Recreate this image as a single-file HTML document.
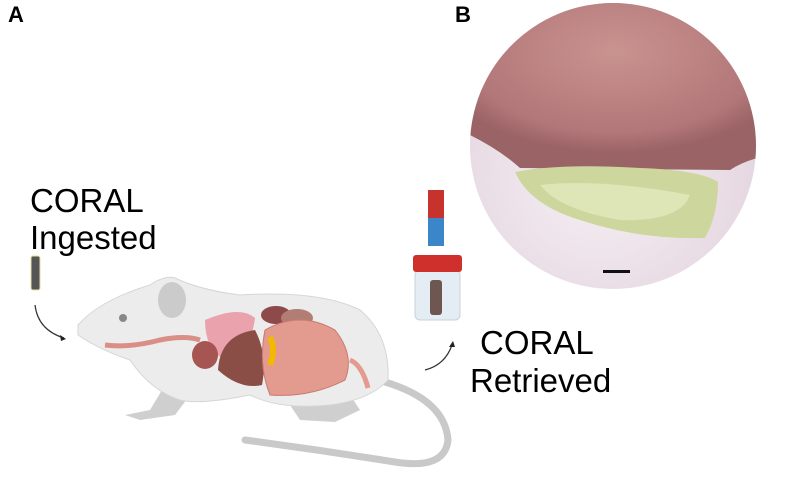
<!DOCTYPE html>
<html><head><style>
body{margin:0;background:#fff;}
svg{display:block;}
text{font-family:"Liberation Sans",sans-serif;}
</style></head><body>
<svg width="800" height="497" viewBox="0 0 800 497" xmlns="http://www.w3.org/2000/svg">
<defs>
<radialGradient id="g1" cx="0.5" cy="0.3" r="0.6">
<stop offset="0" stop-color="#c9938f"/><stop offset="0.8" stop-color="#b27779"/><stop offset="1" stop-color="#9a6366"/>
</radialGradient>
<radialGradient id="g2" cx="0.45" cy="0.6" r="0.7">
<stop offset="0" stop-color="#f6f0f4"/><stop offset="0.7" stop-color="#e6d8e2"/><stop offset="1" stop-color="#c7adc0"/>
</radialGradient>
<clipPath id="c"><circle cx="613" cy="146" r="143"/></clipPath>
</defs>
<text x="8" y="22" font-size="22" font-weight="bold">A</text>
<text x="455" y="22" font-size="22" font-weight="bold">B</text>
<text x="30" y="212" font-size="33">CORAL</text>
<text x="30" y="249" font-size="33">Ingested</text>
<text x="480" y="354" font-size="33">CORAL</text>
<text x="470" y="392" font-size="33">Retrieved</text>
<g clip-path="url(#c)">
<rect x="460" y="0" width="310" height="300" fill="url(#g2)"/>
<path d="M460 0 L770 0 L770 155 Q745 160 730 170 L520 168 Q500 150 470 135 L460 135Z" fill="url(#g1)"/>
<path d="M515 172 Q560 163 640 168 Q700 170 718 182 Q718 215 705 238 Q640 240 580 220 Q530 205 515 172Z" fill="#cdd69c"/>
<path d="M540 185 Q600 178 690 195 Q680 222 620 220 Q560 210 540 185Z" fill="#e6ebc2" opacity="0.7"/>
<rect x="603" y="270" width="27" height="3" fill="#111"/>
</g>
<rect x="31" y="256" width="9" height="34" rx="2" fill="#555" stroke="#eadca0" stroke-width="1"/>
<path d="M35 305 Q38 330 64 338" fill="none" stroke="#333" stroke-width="1.2"/>
<path d="M66 339 l-6 -4 l1 6z" fill="#222"/>
<path d="M385 382 Q445 400 448 440 Q445 470 395 462 Q320 450 245 440" fill="none" stroke="#c9c9c9" stroke-width="7" stroke-linecap="round"/>
<path d="M165 385 L150 410 L125 415 L140 420 L175 415 L190 395Z" fill="#cfcfcf"/>
<path d="M290 405 L300 420 L335 422 L360 410 L350 395Z" fill="#cfcfcf"/>
<path d="M78 325 Q100 300 150 285 Q165 275 175 278 Q200 290 240 295 Q320 290 360 310 Q390 335 388 380 Q370 400 330 405 Q280 410 250 395 Q200 405 180 400 Q150 390 130 360 Q100 350 78 335Z" fill="#ececec" stroke="#d6d6d6"/>
<ellipse cx="172" cy="300" rx="14" ry="18" fill="#cbcbcb"/>
<circle cx="123" cy="318" r="4" fill="#888"/>
<path d="M105 345 Q130 348 160 340 Q185 335 200 340" fill="none" stroke="#d98f86" stroke-width="5"/>
<path d="M205 320 Q240 305 255 318 Q250 355 225 360 Q205 350 205 320Z" fill="#eaa3ac"/>
<ellipse cx="205" cy="355" rx="13" ry="14" fill="#a65552"/>
<path d="M218 370 Q220 335 255 330 Q268 355 262 385 Q240 390 218 370Z" fill="#8b4e47"/>
<ellipse cx="276" cy="315" rx="15" ry="9" fill="#8e4a4a"/>
<ellipse cx="297" cy="318" rx="16" ry="9" fill="#b27e74"/>
<path d="M265 330 Q300 310 335 330 Q355 355 345 380 Q310 398 270 395 Q258 365 265 330Z" fill="#e39a8f" stroke="#c87a70"/>
<path d="M350 360 Q362 365 368 388" fill="none" stroke="#e39a8f" stroke-width="5"/>
<path d="M270 337 Q276 350 270 365" fill="none" stroke="#f4b800" stroke-width="6"/>
<rect x="428" y="190" width="16" height="28" fill="#c8322c"/>
<rect x="428" y="218" width="16" height="28" fill="#3a86c8"/>
<rect x="415" y="270" width="45" height="50" rx="5" fill="#e4edf3" stroke="#c6d2d8"/>
<rect x="413" y="255" width="49" height="17" rx="3" fill="#d0302c"/>
<rect x="430" y="280" width="12" height="35" rx="3" fill="#6d5750"/>
<path d="M425 370 Q445 365 452 345" fill="none" stroke="#333" stroke-width="1.2"/>
<path d="M453 341 l-4 6 l6 0z" fill="#222"/>
</svg>
</body></html>
